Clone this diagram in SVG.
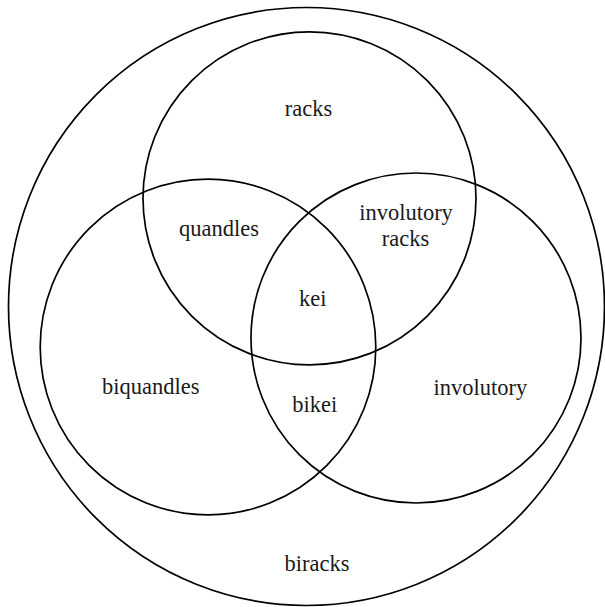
<svg xmlns="http://www.w3.org/2000/svg" width="605" height="607" viewBox="0 0 605 607">
<style>
.set{fill:none;stroke:#000;stroke-width:1.7}
.lbl{font-family:"Liberation Serif","DejaVu Serif",serif;font-size:22.5px;fill:#1a1a1a;text-anchor:middle}
</style>
<rect width="605" height="607" fill="#fff"/>
<g id="biracks"><ellipse class="set" cx="306.5" cy="306.5" rx="298" ry="299"/></g>
<g id="racks"><circle class="set" cx="309.5" cy="198.3" r="166.5"/></g>
<g id="biquandles"><circle class="set" cx="208" cy="347" r="167.8"/></g>
<g id="involutory"><circle class="set" cx="416" cy="338" r="165"/></g>
<g id="connectors"></g>
<g id="labels">
<text class="lbl" x="308.5" y="116">racks</text>
<text class="lbl" x="219" y="235.5">quandles</text>
<text class="lbl" x="406" y="220">involutory</text>
<text class="lbl" x="405.5" y="246">racks</text>
<text class="lbl" x="312.7" y="306">kei</text>
<text class="lbl" x="150.8" y="394">biquandles</text>
<text class="lbl" x="314.7" y="412">bikei</text>
<text class="lbl" x="480.3" y="394.6">involutory</text>
<text class="lbl" x="317" y="571">biracks</text>
</g>
</svg>
